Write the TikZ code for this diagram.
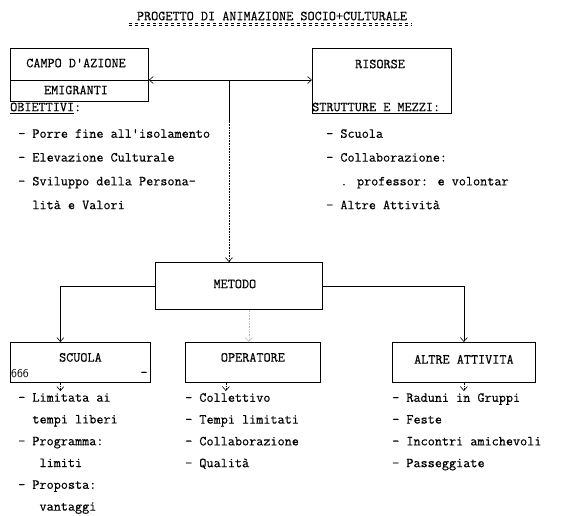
\documentclass[tikz,border=0pt]{standalone}
\usepackage{fontspec}
\newfontfamily\macchina{Latin Modern Mono}[FakeBold=0.4]
\usetikzlibrary{arrows.meta,positioning,calc}

\tikzset{
  box/.style={draw,line width=0.8pt,inner sep=0pt,anchor=north west},
  lbl/.style={inner sep=0pt,font=\fontsize{13.8}{16}\selectfont\macchina},
  lst/.style={inner sep=0pt,anchor=north west,align=left,font=\fontsize{13.8}{23.8}\selectfont\macchina},
  lstb/.style={lst,font=\fontsize{13.8}{21.8}\selectfont\macchina},
  arr/.style={-{Straight Barb[length=4pt,width=7pt]},line width=0.6pt},
  darr/.style={{Straight Barb[length=4pt,width=7pt]}-{Straight Barb[length=4pt,width=7pt]},line width=0.6pt},
}

\begin{document}
\begin{tikzpicture}[x=1pt,y=-1pt]
\useasboundingbox (0,0) rectangle (574,515);

% titolo
\node[lbl] (titolo) at (272,16) {PROGETTO DI ANIMAZIONE SOCIO+CULTURALE};
\draw[dashed,line width=0.5pt] ([shift={(-8pt,-3pt)}]titolo.south west) -- ([shift={(5pt,-3pt)}]titolo.south east);
\draw[dashed,line width=0.5pt] ([shift={(-8pt,-5pt)}]titolo.south west) -- ([shift={(5pt,-5pt)}]titolo.south east);

% riquadri in alto
\node[box,minimum width=138pt,minimum height=53pt] (campo) at (10,48) {};
\node[box,minimum width=139pt,minimum height=65pt] (risorse) at (312,48) {};
\coordinate (split) at (10,80);
\draw[line width=0.7pt] (split) -- (split -| campo.east);
\node[lbl] (campotxt) at (76,63) {CAMPO D'AZIONE};
\node[lbl] (emig) at (76,90) {EMIGRANTI};
\node[lbl] (risorsetxt) at (380,64) {RISORSE};
\draw[darr] (split -| campo.east) -- (split -| risorse.west);

\node[lbl,anchor=west] (obiettivi) at (10,108) {\underline{OBIETTIVI}:};
\node[lbl,anchor=west] (strutture) at (312,108) {\underline{STRUTTURE E MEZZI}:};

\node[lst] (lobiettivi) at (18,129) {- Porre fine all'isolamento\\
- Elevazione Culturale\\
- Sviluppo della Persona-\\
\phantom{- }lità e Valori};
\node[lst] (lrisorse) at (326,129) {- Scuola\\
- Collaborazione:\\
\phantom{- }. professor: e volontar\\
- Altre Attività};

% metodo
\node[box,minimum width=167pt,minimum height=47pt] (metodo) at (155,262) {};
\node[lbl] (metodotxt) at ([xshift=-4pt,yshift=2pt]metodo.center) {METODO};
\coordinate (mid) at (229,80);
\coordinate (brk) at (229,122);
\draw[line width=0.7pt] (mid) -- (brk);
\draw[arr,densely dotted] (brk) -- (brk |- metodo.north);

% riquadri in basso
\node[box,minimum width=140pt,minimum height=40pt] (scuola) at (10,342) {};
\node[box,minimum width=135pt,minimum height=40pt] (operatore) at (185,342) {};
\node[box,minimum width=143pt,minimum height=40pt] (altre) at (392,342) {};
\node[lbl] (scuolatxt) at ([yshift=5pt]scuola.center) {SCUOLA};
\node[inner sep=0pt,anchor=south west,font=\sffamily\fontsize{12}{14}\selectfont] (num) at ([shift={(1pt,5pt)}]scuola.south west) {666};
\node[lbl,anchor=south east] (trattino) at ([shift={(-3pt,6pt)}]scuola.south east) {-};
\node[lbl] (operatoretxt) at ([yshift=5pt]operatore.center) {OPERATORE};
\node[lbl] (altretxt) at ([yshift=3pt]altre.center) {ALTRE ATTIVITA};

\draw[arr] (metodo.west) -| ([xshift=-20pt]scuola.north);
\draw[arr] (metodo.east) -| (altre.north);
\draw[arr,densely dotted,draw=black!25] ([xshift=-4pt]operatore.north |- metodo.south) -- ([xshift=-4pt]operatore.north);

% elenchi
\node[lstb] (lscuola) at (18,393) {- Limitata ai\\
\phantom{- }tempi liberi\\
- Programma:\\
\phantom{- -}limiti\\
- Proposta:\\
\phantom{- -}vantaggi};
\node[lstb] (loperatore) at (185,393) {- Collettivo\\
- Tempi limitati\\
- Collaborazione\\
- Qualità};
\node[lstb] (laltre) at (392,393) {- Raduni in Gruppi\\
- Feste\\
- Incontri amichevoli\\
- Passeggiate};

\draw[arr,densely dotted] ([xshift=-20pt]scuola.south) -- ([xshift=-20pt,yshift=2pt]scuola.south |- lscuola.north);
\draw[arr,densely dotted] ([xshift=-27pt]operatore.south) -- ([xshift=-27pt,yshift=2pt]operatore.south |- loperatore.north);
\draw[arr,densely dotted] (altre.south) -- ([yshift=2pt]altre.south |- laltre.north);
\end{tikzpicture}
\end{document}
